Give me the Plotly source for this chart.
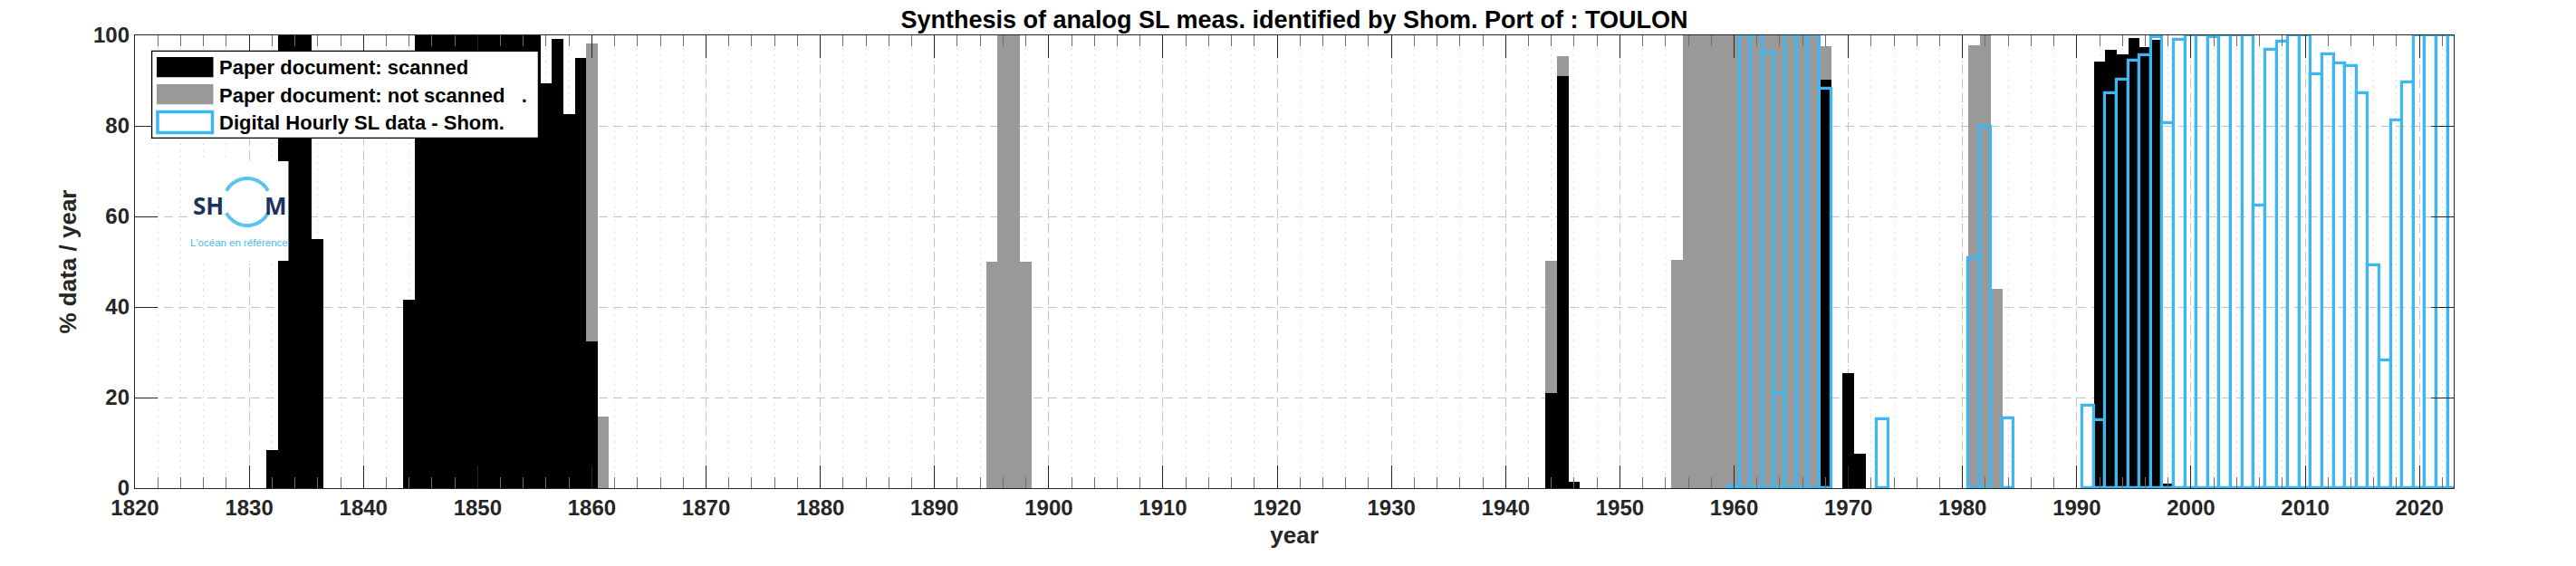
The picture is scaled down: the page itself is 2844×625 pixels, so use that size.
import math
import plotly.graph_objects as go

# ---------------- data (percentage of data per year) ----------------
scanned_years = [1832, 1833, 1834, 1835, 1836,
                 1844, 1845, 1846, 1847, 1848, 1849, 1850, 1851, 1852, 1853, 1854, 1855,
                 1856, 1857, 1858, 1859, 1860,
                 1944, 1945, 1946, 1968, 1970, 1971,
                 1992, 1993, 1994, 1995, 1996, 1997, 1998]
scanned_pct = [8.5, 100, 100, 100, 55,
               41.7, 100, 100, 100, 100, 100, 100, 100, 100, 100, 100, 100,
               89.4, 99.2, 82.6, 95.1, 32.4,
               21, 91, 1.4, 90.2, 25.4, 7.7,
               94.3, 96.8, 95.9, 99.4, 97.5, 99, 1.1]

not_scanned_years = [1860, 1861, 1895, 1896, 1897, 1898, 1944, 1945,
                     1955, 1956, 1957, 1958, 1959, 1960, 1961, 1962, 1963, 1964, 1965, 1966, 1967, 1968,
                     1981, 1982, 1983]
not_scanned_pct = [98.2, 15.8, 50, 100, 100, 50, 50.2, 95.4,
                   50.4, 100, 100, 100, 100, 100, 100, 100, 100, 100, 100, 100, 100, 97.6,
                   97.9, 100, 44]

digital_years = [1960, 1961, 1962, 1963, 1964, 1965, 1966, 1967, 1968,
                 1973, 1981, 1982, 1984,
                 1991, 1992, 1993, 1994, 1995, 1996, 1997, 1998, 1999, 2000,
                 2001, 2002, 2003, 2004, 2005, 2006, 2007, 2008, 2009, 2010,
                 2011, 2012, 2013, 2014, 2015, 2016, 2017, 2018, 2019, 2020,
                 2021, 2022, 2023]
digital_pct = [0.4, 100, 100, 96.3, 21.1, 100, 100, 100, 88.2,
               15.2, 50.9, 79.8, 15.5,
               18.3, 15.1, 87.3, 90.3, 94.5, 95.6, 99.6, 80.7, 99.1, 100,
               100, 99.6, 100, 100, 100, 62.5, 96.8, 98.6, 100, 100,
               91.4, 95.8, 93.8, 93.3, 87.3, 49.2, 28.2, 81.2, 89.6, 100,
               100, 100, 100]

x_tick_vals = list(range(1820, 2021, 10))
y_tick_vals = [0, 20, 40, 60, 80, 100]

legend_labels = ["Paper document: scanned",
                 "Paper document: not scanned\u00a0\u00a0\u00a0.",
                 "Digital Hourly SL data - Shom."]
title_text = "Synthesis of analog SL meas. identified by Shom. Port of : TOULON"

# ---------------- styling ----------------
W, H = 2844, 625
ML, MR, MT, MB = 141, 143, 31, 94
PW, PH = W - ML - MR, H - MT - MB
FONT = "Liberation Sans, Arial, Helvetica, sans-serif"
AX = "#262626"
BLACK = "#000000"
GRAY = "#999999"
BLUE = "#3BB8F3"
LOGO_NAVY = "#1B3160"
LOGO_BLUE = "#5BC3EC"


def px(xp):
    return (xp - ML) / PW


def py(yp):
    return (MT + PH - yp) / PH


fig = go.Figure()
fig.add_trace(go.Bar(x=not_scanned_years, y=not_scanned_pct, width=1, name=legend_labels[1],
                     marker=dict(color=GRAY, line=dict(width=0)), showlegend=False))
fig.add_trace(go.Bar(x=scanned_years, y=scanned_pct, width=1, name=legend_labels[0],
                     marker=dict(color=BLACK, line=dict(width=0)), showlegend=False))
fig.add_trace(go.Bar(x=digital_years, y=digital_pct, width=1, name=legend_labels[2],
                     marker=dict(color="rgba(0,0,0,0)", line=dict(color=BLUE, width=3.2)),
                     showlegend=False))

shapes = []
annotations = []

# ---- manual legend (MATLAB style) ----
shapes.append(dict(type="rect", xref="paper", yref="paper", layer="above",
                   x0=px(159.6), x1=px(586.4), y0=py(144.3), y1=py(48.3),
                   fillcolor="white", line=dict(color="#000000", width=1.3)))
sw = [(55, 77.3, BLACK, None), (85, 107.3, GRAY, None), (115.5, 138.5, None, BLUE)]
for (t, b, fillc, linec) in sw:
    if fillc:
        shapes.append(dict(type="rect", xref="paper", yref="paper", layer="above",
                           x0=px(165), x1=px(227.5), y0=py(b), y1=py(t),
                           fillcolor=fillc, line=dict(width=0)))
    else:
        shapes.append(dict(type="rect", xref="paper", yref="paper", layer="above",
                           x0=px(166), x1=px(226.5), y0=py(b), y1=py(t),
                           fillcolor="white", line=dict(color=linec, width=3.5)))
for lab, yc in zip(legend_labels, [66.7, 97.3, 127.7]):
    annotations.append(dict(xref="paper", yref="paper", x=px(232), y=py(yc),
                            xanchor="left", yanchor="middle", showarrow=False,
                            text="<b>" + lab + "</b>",
                            font=dict(family=FONT, size=22, color="#000000")))

# ---- SHOM logo (white box + ring + text) ----
shapes.append(dict(type="rect", xref="x", yref="y", layer="above",
                   x0=1824.68, x1=1833.44, y0=50.2, y1=72.2,
                   fillcolor="white", line=dict(width=0)))
cx, cy, r = 1829.83, 63.2, 26
for a0, a1 in [(28, 152), (208, 332)]:
    pts = []
    for k in range(31):
        a = math.radians(a0 + (a1 - a0) * k / 30)
        pts.append((r * math.cos(a), r * math.sin(a)))
    path = "M" + " L".join("%.2f,%.2f" % p for p in pts)
    shapes.append(dict(type="path", xref="x", yref="y", layer="above",
                       xsizemode="pixel", ysizemode="pixel", xanchor=cx, yanchor=cy,
                       path=path, line=dict(color=LOGO_BLUE, width=4)))
annotations.append(dict(xref="x", yref="y", x=1826.46, y=62.4, showarrow=False,
                        xanchor="center", yanchor="middle", text="<b>SH</b>",
                        font=dict(family="Open Sans, sans-serif", size=26, color=LOGO_NAVY)))
annotations.append(dict(xref="x", yref="y", x=1832.3, y=62.4, showarrow=False,
                        xanchor="center", yanchor="middle", text="<b>M</b>",
                        font=dict(family="Open Sans, sans-serif", size=26, color=LOGO_NAVY)))
annotations.append(dict(xref="x", yref="y", x=1829.1, y=54.3, showarrow=False,
                        xanchor="center", yanchor="middle", text="L'océan en référence",
                        font=dict(family=FONT, size=11.5, color="#4DB8E8")))

axis_common = dict(
    showline=True, linecolor=AX, linewidth=1.3, mirror="allticks",
    ticks="inside", ticklen=25, tickwidth=1.2, tickcolor=AX,
    showgrid=True, gridcolor="#C4C4C4", gridwidth=1, griddash="10px,6px",
    zeroline=False,
    tickfont=dict(family=FONT, size=24, color=AX, weight="bold"),
)

fig.update_layout(
    width=W, height=H, autosize=False,
    margin=dict(l=ML, r=MR, t=MT, b=MB, pad=0),
    paper_bgcolor="white", plot_bgcolor="white",
    barmode="overlay", bargap=0,
    title=dict(text="<b>" + title_text + "</b>", x=0.5, xref="paper", xanchor="center",
               y=1 - 14 / H, yref="container", yanchor="middle",
               font=dict(family=FONT, size=27, color="#000000")),
    xaxis=dict(range=[1820, 2023], tickvals=x_tick_vals, ticktext=[str(v) for v in x_tick_vals],
               title=dict(text="<b>year</b>", standoff=8,
                          font=dict(family=FONT, size=26, color=AX)),
               minor=dict(dtick=2, tick0=1820, ticks="inside", ticklen=12, tickwidth=1,
                          tickcolor="#6e6e6e", showgrid=True, gridcolor="#DCDCDC",
                          griddash="2px,5px", gridwidth=1),
               **axis_common),
    yaxis=dict(range=[0, 100], tickvals=y_tick_vals, ticktext=[str(v) for v in y_tick_vals],
               title=dict(text="<b>% data / year</b>", standoff=10,
                          font=dict(family=FONT, size=26, color=AX)),
               **axis_common),
    shapes=shapes,
    annotations=annotations,
    showlegend=False,
)

fig.write_html("out.html")
